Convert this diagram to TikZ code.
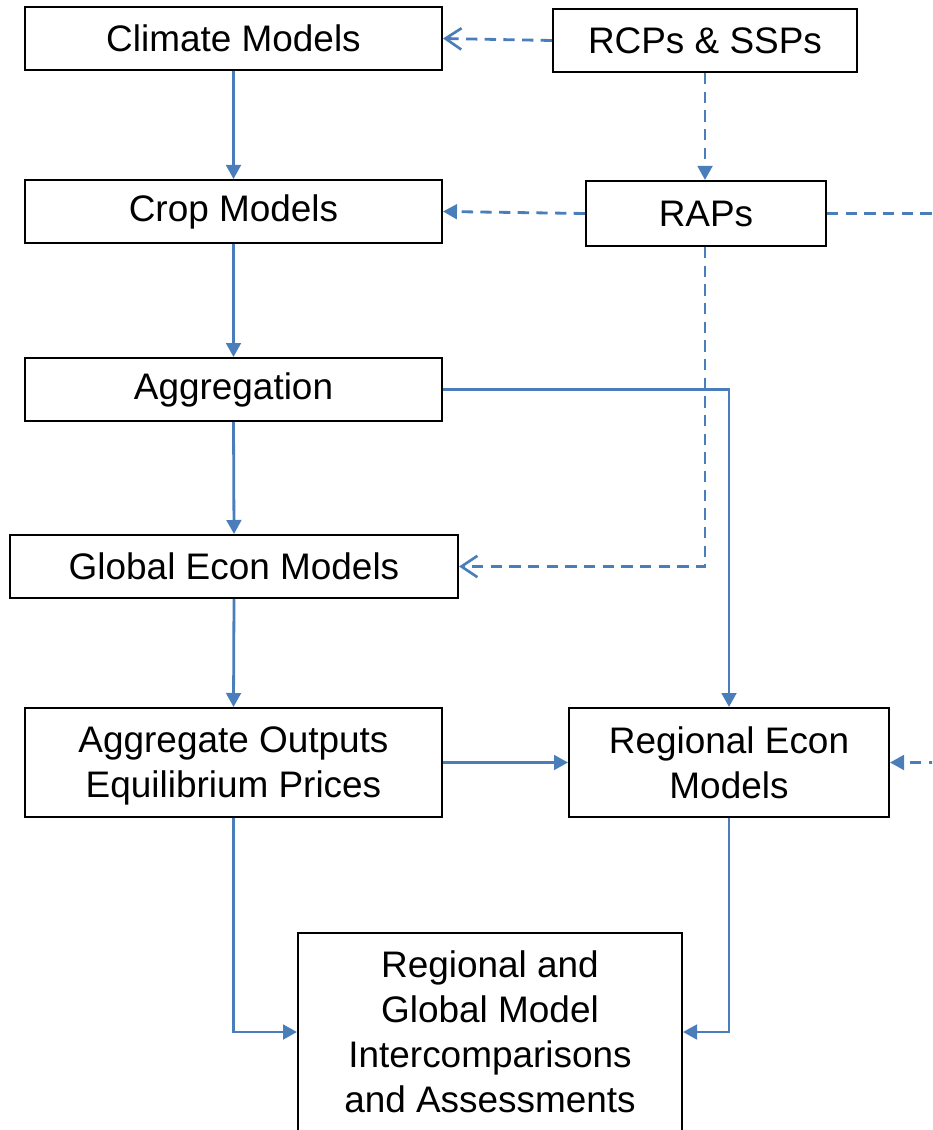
\documentclass[tikz,border=0pt]{standalone}
\usepackage{fontspec}
\setmainfont{Liberation Sans}
\usetikzlibrary{arrows.meta}
\definecolor{flowblue}{RGB}{74,126,187}
\begin{document}
\begin{tikzpicture}[x=0.75pt,y=-0.75pt,
  box/.style={draw=black,line width=1.5pt,fill=white,inner sep=0pt,align=center,
    font=\fontsize{27.7}{33.7}\selectfont},
  flow/.style={draw=flowblue,line width=2.1pt,-{Triangle[length=10.5pt,width=11pt]}},
  dflow/.style={flow,dash pattern=on 8.5pt off 5.5pt},
  oflow/.style={draw=flowblue,line width=2.1pt,dash pattern=on 8.5pt off 5.5pt,
    -{Straight Barb[length=12pt,width=16pt,line width=2pt]}},
  dline/.style={draw=flowblue,line width=2.1pt,dash pattern=on 8.5pt off 5.5pt}]
\useasboundingbox (0,0) rectangle (932,1130);
\clip (0,0) rectangle (932,1130);

% model boxes
\node[box,minimum width=312.75pt,minimum height=47.25pt] (climate) at (233.5,38.5) {Climate Models};
\node[box,minimum width=228pt,minimum height=47.25pt] (rcps) at (705,40.5) {RCPs \& SSPs};
\node[box,minimum width=312.75pt,minimum height=47.25pt] (crop) at (233.5,211.5) {Crop Models};
\node[box,minimum width=180pt,minimum height=48.75pt] (raps) at (706,213.5) {RAPs};
\node[box,minimum width=312.75pt,minimum height=47.25pt] (agg) at (233.5,389.5) {Aggregation};
\node[box,minimum width=336pt,minimum height=47.25pt] (global) at (234,566.5) {Global Econ Models};
\node[box,minimum width=312.75pt,minimum height=81.75pt] (aggout) at (233.5,762.5)
  {Aggregate Outputs\\\raisebox{0pt}[\height][0pt]{Equilibrium Prices}};
\node[box,minimum width=240pt,minimum height=81.75pt] (regional) at (729,762.5) {Regional Econ\\Models};
\node[box,minimum width=288pt,minimum height=148.5pt] (inter) at (490,1032) {Regional and\\Global Model\\Intercomparisons\\and Assessments};

% free ends at the right edge
\coordinate (rapsout) at (940,213.5);
\coordinate (regin) at (940,762.5);

% solid model chain
\draw[flow] (climate.south) -- (crop.north);
\draw[flow] (crop.south) -- (agg.north);
\draw[flow] (agg.south) -- (global.north);
\draw[flow] (global.south) -- (aggout.north);
\draw[flow] (agg.east) -| (regional.north);
\draw[flow] (aggout.east) -- (regional.west);
\draw[flow] (aggout.south) |- (inter.west);
\draw[flow] (regional.south) |- (inter.east);

% scenario inputs
\draw[oflow] (rcps.west) -- (climate.east);
\draw[dflow] (rcps.south) -- (rcps.south |- raps.north);
\draw[dflow] (raps.west) -- (crop.east);
\draw[oflow] (rcps.south |- raps.south) |- (global.east);
\draw[dline] (raps.east) -- (rapsout);
\draw[dflow] (regin) -- (regional.east);
\end{tikzpicture}
\end{document}
